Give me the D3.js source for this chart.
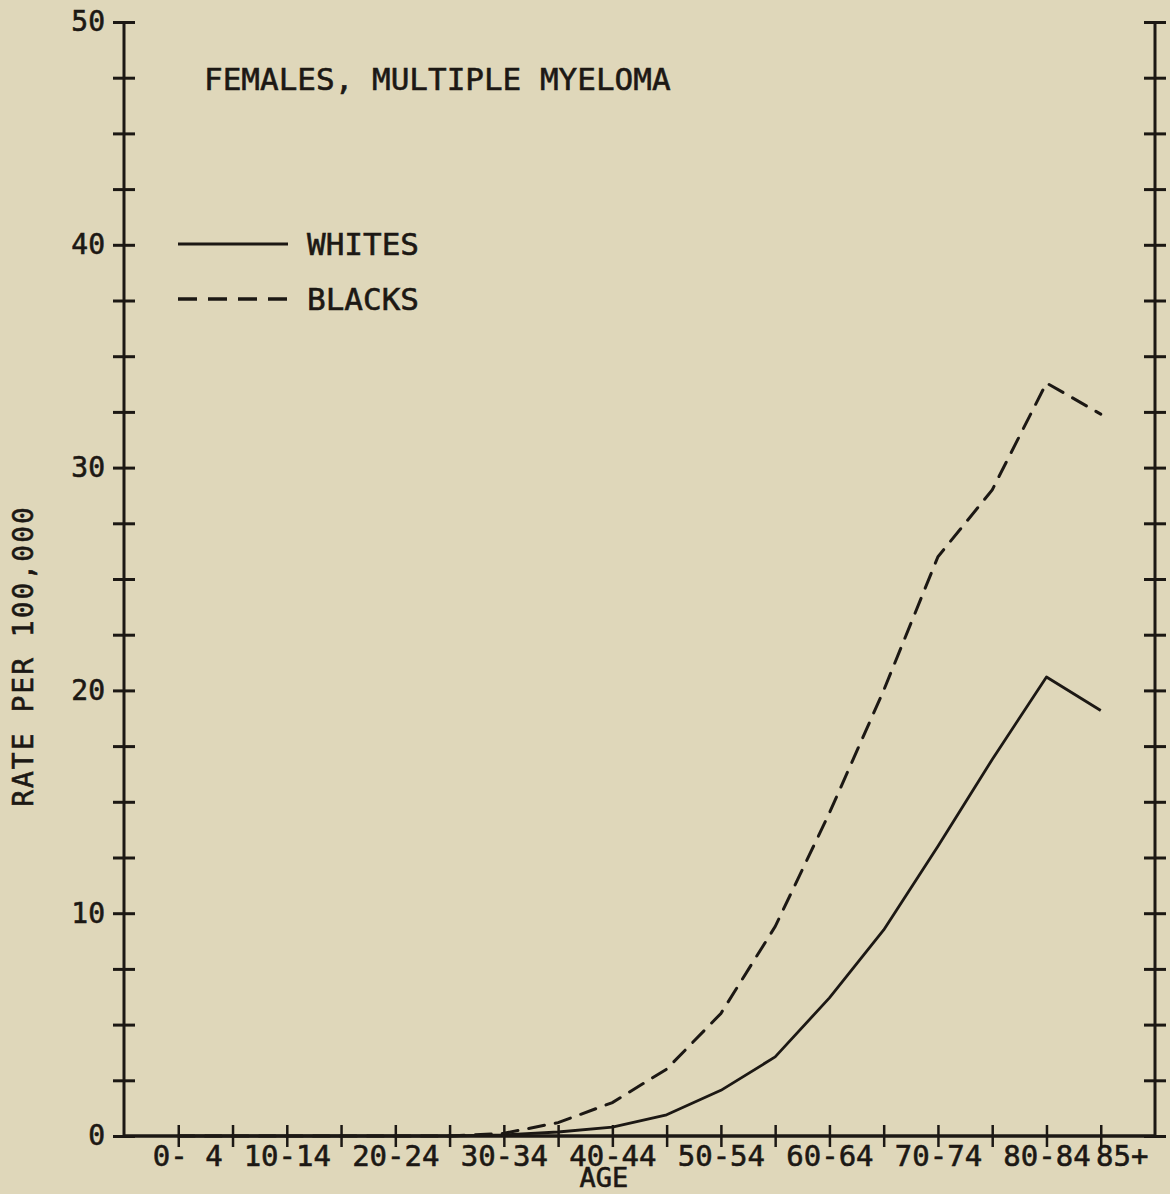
<!DOCTYPE html>
<html>
<head>
<meta charset="utf-8">
<script src="https://cdn.jsdelivr.net/npm/d3@7"></script>
<style>
  html, body { margin: 0; padding: 0; background: #dfd7ba; }
  svg { display: block; }
  text { font-family: "DejaVu Sans Mono", "Liberation Mono", monospace; fill: #1c1814;
         stroke: #1c1814; stroke-width: 0.6px; }
</style>
</head>
<body>
<svg id="chart" width="1170" height="1194"></svg>
<script>
// Age groups (5-year bands) and incidence rates per 100,000
const ageGroups = ["0-4","5-9","10-14","15-19","20-24","25-29","30-34","35-39",
                   "40-44","45-49","50-54","55-59","60-64","65-69","70-74","75-79","80-84","85+"];
const ageTickLabels = ["0- 4","","10-14","","20-24","","30-34","","40-44","",
                       "50-54","","60-64","","70-74","","80-84","85+"];
const whitesRate = [0,0,0,0,0,0,0.05,0.18,0.4,0.95,2.05,3.55,6.2,9.25,13.0,16.9,20.6,19.1];
const blacksRate = [0,0,0,0,0,0,0.12,0.6,1.5,3.0,5.5,9.4,14.5,20.0,26.0,29.0,33.8,32.4];
const rateTicks = d3.range(0, 50.01, 2.5);
const rateLabels = [0, 10, 20, 30, 40, 50];

const ink = "#1c1814";
const svg = d3.select("#chart");
svg.append("rect").attr("width", 1170).attr("height", 1194).attr("fill", "#dfd7ba");

const plotLeft = 124, plotRight = 1155, plotTop = 22, plotBottom = 1136;
const x = d3.scalePoint().domain(ageGroups).range([plotLeft, plotRight]).padding(1);
const y = d3.scaleLinear().domain([0, 50]).range([plotBottom, plotTop]);

// Left axis with ticks crossing the spine
const gl = svg.append("g").attr("transform", `translate(${plotLeft},0)`)
  .call(d3.axisLeft(y).tickValues(rateTicks).tickSize(11).tickPadding(9)
    .tickFormat(d => rateLabels.includes(d) ? d : ""));
gl.select(".domain").remove();
gl.selectAll(".tick line").attr("x1", -11).attr("x2", 11)
  .attr("stroke", ink).attr("stroke-width", 3);
gl.selectAll(".tick text").attr("font-size", 28).attr("fill", ink)
  .attr("font-family", "DejaVu Sans Mono").attr("x", -19);
gl.append("line").attr("x1", 0).attr("x2", 0).attr("y1", y(50)).attr("y2", y(0))
  .attr("stroke", ink).attr("stroke-width", 3);

// Right axis, ticks only
const gr = svg.append("g").attr("transform", `translate(${plotRight},0)`)
  .call(d3.axisRight(y).tickValues(rateTicks).tickSize(11).tickFormat(""));
gr.select(".domain").remove();
gr.selectAll(".tick line").attr("x1", -11).attr("x2", 11)
  .attr("stroke", ink).attr("stroke-width", 3);
gr.append("line").attr("x1", 0).attr("x2", 0).attr("y1", y(50)).attr("y2", y(0))
  .attr("stroke", ink).attr("stroke-width", 3);

// Bottom axis
const gb = svg.append("g").attr("transform", `translate(0,${plotBottom})`)
  .call(d3.axisBottom(x).tickSize(11).tickPadding(0)
    .tickFormat((d, i) => ageTickLabels[i]));
gb.select(".domain").remove();
gb.selectAll(".tick line").attr("y1", -11).attr("y2", 11)
  .attr("stroke", ink).attr("stroke-width", 2.5);
gb.selectAll(".tick text").attr("font-size", 29).attr("fill", ink)
  .attr("font-family", "DejaVu Sans Mono")
  .attr("dy", null).attr("y", 30)
  .attr("dx", (d, i) => i === 0 ? 9 : (i === ageGroups.length - 1 ? 21 : 0));
gb.append("line").attr("x1", plotLeft).attr("x2", plotRight).attr("y1", 0).attr("y2", 0)
  .attr("stroke", ink).attr("stroke-width", 3.5);

// Series lines
const line = d3.line().x((d, i) => x(ageGroups[i])).y(d => y(d));
svg.append("path").datum(whitesRate).attr("d", line)
  .attr("fill", "none").attr("stroke", ink).attr("stroke-width", 2.8)
  .attr("stroke-linejoin", "round");
svg.append("path").datum(blacksRate).attr("d", line)
  .attr("fill", "none").attr("stroke", ink).attr("stroke-width", 3)
  .attr("stroke-dasharray", "16,11").attr("stroke-linecap", "round");

// Title
svg.append("text").attr("x", 204).attr("y", 90).attr("font-size", 31)
  .text("FEMALES, MULTIPLE MYELOMA");

// Legend
svg.append("line").attr("x1", 178).attr("x2", 288).attr("y1", 244).attr("y2", 244)
  .attr("stroke", ink).attr("stroke-width", 3);
svg.append("text").attr("x", 307).attr("y", 255).attr("font-size", 31).text("WHITES");
svg.append("line").attr("x1", 178).attr("x2", 288).attr("y1", 299).attr("y2", 299)
  .attr("stroke", ink).attr("stroke-width", 3.5).attr("stroke-dasharray", "19,11");
svg.append("text").attr("x", 307).attr("y", 310).attr("font-size", 31).text("BLACKS");

// Axis titles
svg.append("text").attr("x", 604).attr("y", 1187).attr("font-size", 27)
  .attr("text-anchor", "middle").text("AGE");
svg.append("text").attr("transform", "translate(33,656) rotate(-90)")
  .attr("font-size", 28).attr("letter-spacing", 2).attr("text-anchor", "middle")
  .text("RATE PER 100,000");
</script>
</body>
</html>
